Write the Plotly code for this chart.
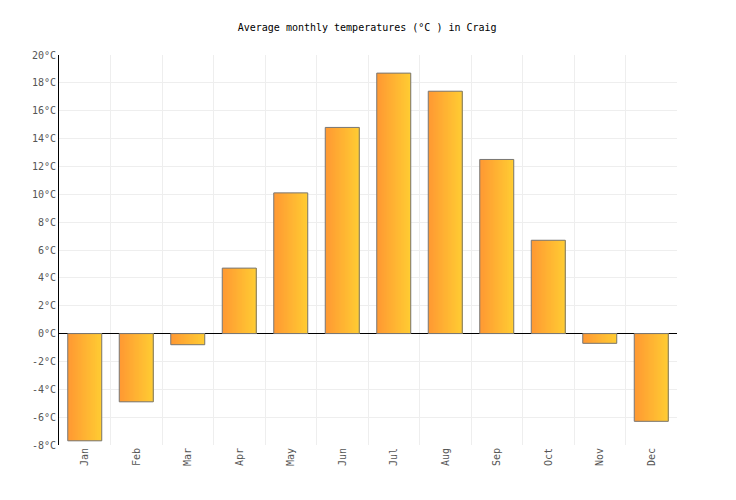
import plotly.graph_objects as go

months = ["Jan", "Feb", "Mar", "Apr", "May", "Jun", "Jul", "Aug", "Sep", "Oct", "Nov", "Dec"]
temps = [-7.7, -4.9, -0.8, 4.7, 10.1, 14.8, 18.7, 17.4, 12.5, 6.7, -0.7, -6.3]
y_ticks = list(range(-8, 21, 2))
y_labels = [f"{t}°C" for t in y_ticks]

x = list(range(len(months)))
bar_w = 0.66
n_slices = 30

fig = go.Figure()

# fake a horizontal orange->yellow gradient with overlapping thin bar slices
c0 = (255, 153, 51)
c1 = (255, 204, 51)
sw = bar_w / n_slices
for i in range(n_slices):
    f = i / (n_slices - 1)
    col = "rgb({},{},{})".format(*[round(a + (b - a) * f) for a, b in zip(c0, c1)])
    w = sw * 2 if i < n_slices - 1 else sw
    fig.add_trace(go.Bar(x=x, y=temps, width=w, offset=-bar_w / 2 + i * sw,
                         marker=dict(color=col, line=dict(width=0)),
                         hoverinfo="skip", showlegend=False))

# outline
fig.add_trace(go.Bar(x=x, y=temps, width=bar_w,
                     marker=dict(color="rgba(0,0,0,0)", line=dict(color="#777777", width=1)),
                     showlegend=False))

fig.update_layout(
    width=736, height=500,
    barmode="overlay",
    plot_bgcolor="white", paper_bgcolor="white",
    margin=dict(l=51, r=67, t=47, b=63, autoexpand=False),
    font=dict(family="DejaVu Sans Mono", size=10, color="#555555"),
    title=dict(text="Average monthly temperatures (°C ) in Craig", x=0.488, y=0.962,
               xanchor="center", yanchor="middle", font=dict(size=10, color="#000000")),
)
fig.update_xaxes(range=[-0.5, 11.5], tickvals=x, ticktext=months, tickangle=-90,
                 showgrid=False, zeroline=False, showline=False, automargin=False,
                 minor=dict(tick0=0.5, dtick=1, showgrid=True, gridcolor="#eeeeee", gridwidth=1))
fig.update_yaxes(range=[-8, 20], tickvals=y_ticks, ticktext=y_labels, automargin=False,
                 showgrid=True, gridcolor="#eeeeee", zeroline=True, zerolinecolor="#000000",
                 zerolinewidth=1, showline=True, linecolor="#000000", linewidth=1)

fig.write_html("out.html")
